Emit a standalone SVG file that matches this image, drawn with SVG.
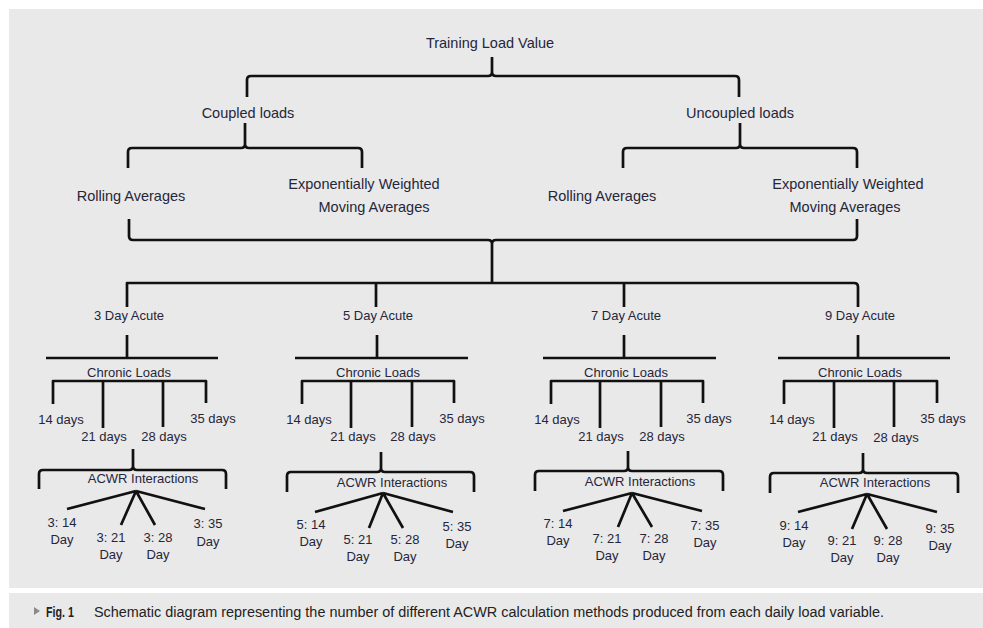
<svg xmlns="http://www.w3.org/2000/svg" width="983" height="628" viewBox="0 0 983 628">
<style>
.ln{fill:none;stroke:#111;stroke-width:2.7;stroke-linejoin:round}
.t{font-family:"Liberation Sans",Arial,sans-serif;font-size:13px;fill:#26263a;text-anchor:middle}
.tl{font-size:14.5px}
.cap{font-family:"Liberation Sans",Arial,sans-serif;font-size:14px;fill:#222}
</style>
<rect x="0" y="0" width="983" height="628" fill="#ffffff"/>
<rect x="9" y="9" width="974" height="579" fill="#e9e9e9"/>
<rect x="9" y="593" width="974" height="35" fill="#e9e9e9"/>

<g id="connectors">
  <path class="ln" d="M247 97 V80 Q247 76 251 76 H488 Q492 76 492 72 V57 M739 97 V80 Q739 76 735 76 H496 Q492 76 492 72"/>
  <path class="ln" d="M128 168 V152 Q128 148 132 148 H241 Q245 148 245 144 V123 M362 168 V152 Q362 148 358 148 H249 Q245 148 245 144"/>
  <path class="ln" d="M623 168 V152 Q623 148 627 148 H736 Q740 148 740 144 V123 M857 168 V152 Q857 148 853 148 H744 Q740 148 740 144"/>
  <path class="ln" d="M129 219 V236 Q129 240 133 240 H488 Q492 240 492 244 V283 M857 219 V236 Q857 240 853 240 H496 Q492 240 492 244"/>
  <path class="ln" d="M127 307 V283 H854 Q858 283 858 287 V307 M376 283 V307 M624 283 V307"/>

  <path class="ln" d="M127 335 V358 M46 358 H218"/>
  <path class="ln" d="M53 404 V381 H206 V403 M103 381 V428 M163 381 V427"/>
  <path class="ln" d="M39 489 V474 Q39 470 43 470 H129 Q133 470 133 466 V449 M226 489 V474 Q226 470 222 470 H137 Q133 470 133 466"/>
  <path class="ln" d="M136 491 L67 509 M136 491 L121 525 M136 491 L155 525 M136 491 L205 509"/>

  <path class="ln" d="M377 335 V358 M295 358 H468"/>
  <path class="ln" d="M302 404 V381 H454 V403 M351 381 V428 M412 381 V427"/>
  <path class="ln" d="M287 492 V476 Q287 472 291 472 H377 Q381 472 381 468 V452 M474 492 V476 Q474 472 470 472 H385 Q381 472 381 468"/>
  <path class="ln" d="M383 493 L315 512 M383 493 L369 528 M383 493 L403 528 M383 493 L453 512"/>

  <path class="ln" d="M624 335 V358 M543 358 H716"/>
  <path class="ln" d="M551 404 V381 H703 V403 M600 381 V428 M661 381 V427"/>
  <path class="ln" d="M535 491 V475 Q535 471 539 471 H624 Q628 471 628 467 V451 M723 491 V475 Q723 471 719 471 H632 Q628 471 628 467"/>
  <path class="ln" d="M632 493 L563 511 M632 493 L618 527 M632 493 L652 527 M632 493 L702 511"/>

  <path class="ln" d="M858 335 V358 M778 358 H950"/>
  <path class="ln" d="M784 404 V381 H937 V403 M834 381 V428 M894 381 V427"/>
  <path class="ln" d="M770 493 V477 Q770 473 774 473 H859 Q863 473 863 469 V453 M958 493 V477 Q958 473 954 473 H867 Q863 473 863 469"/>
  <path class="ln" d="M867 494 L798 512 M867 494 L852 529 M867 494 L887 529 M867 494 L937 512"/>
</g>

<g id="training-load"><text class="t tl" x="490" y="48">Training Load Value</text></g>
<g id="coupled"><text class="t tl" x="248" y="118">Coupled loads</text></g>
<g id="uncoupled"><text class="t tl" x="740" y="118">Uncoupled loads</text></g>
<g id="coupled-rolling"><text class="t tl" x="131" y="201">Rolling Averages</text></g>
<g id="coupled-ewma"><text class="t tl" x="364" y="189">Exponentially Weighted</text><text class="t tl" x="374" y="212">Moving Averages</text></g>
<g id="uncoupled-rolling"><text class="t tl" x="602" y="201">Rolling Averages</text></g>
<g id="uncoupled-ewma"><text class="t tl" x="848" y="189">Exponentially Weighted</text><text class="t tl" x="845" y="212">Moving Averages</text></g>

<g id="col3">
  <g id="acute3"><text class="t" x="129" y="320">3 Day Acute</text></g>
  <g id="chronic3"><text class="t" x="129" y="377">Chronic Loads</text></g>
  <g id="c3-14"><text class="t" x="61" y="424">14 days</text></g>
  <g id="c3-21"><text class="t" x="104" y="441">21 days</text></g>
  <g id="c3-28"><text class="t" x="164" y="441">28 days</text></g>
  <g id="c3-35"><text class="t" x="213" y="423">35 days</text></g>
  <g id="acwr3"><text class="t" x="143" y="483">ACWR Interactions</text></g>
  <g id="r3-14"><text class="t" x="62" y="527">3: 14</text><text class="t" x="62" y="544">Day</text></g>
  <g id="r3-21"><text class="t" x="111" y="542">3: 21</text><text class="t" x="111" y="559">Day</text></g>
  <g id="r3-28"><text class="t" x="158" y="542">3: 28</text><text class="t" x="158" y="559">Day</text></g>
  <g id="r3-35"><text class="t" x="208" y="528">3: 35</text><text class="t" x="208" y="546">Day</text></g>
</g>

<g id="col5">
  <g id="acute5"><text class="t" x="378" y="320">5 Day Acute</text></g>
  <g id="chronic5"><text class="t" x="378" y="377">Chronic Loads</text></g>
  <g id="c5-14"><text class="t" x="309" y="424">14 days</text></g>
  <g id="c5-21"><text class="t" x="353" y="441">21 days</text></g>
  <g id="c5-28"><text class="t" x="413" y="441">28 days</text></g>
  <g id="c5-35"><text class="t" x="462" y="423">35 days</text></g>
  <g id="acwr5"><text class="t" x="392" y="487">ACWR Interactions</text></g>
  <g id="r5-14"><text class="t" x="311" y="529">5: 14</text><text class="t" x="311" y="546">Day</text></g>
  <g id="r5-21"><text class="t" x="358" y="544">5: 21</text><text class="t" x="358" y="561">Day</text></g>
  <g id="r5-28"><text class="t" x="405" y="544">5: 28</text><text class="t" x="405" y="561">Day</text></g>
  <g id="r5-35"><text class="t" x="457" y="531">5: 35</text><text class="t" x="457" y="548">Day</text></g>
</g>

<g id="col7">
  <g id="acute7"><text class="t" x="626" y="320">7 Day Acute</text></g>
  <g id="chronic7"><text class="t" x="626" y="377">Chronic Loads</text></g>
  <g id="c7-14"><text class="t" x="557" y="424">14 days</text></g>
  <g id="c7-21"><text class="t" x="601" y="441">21 days</text></g>
  <g id="c7-28"><text class="t" x="662" y="441">28 days</text></g>
  <g id="c7-35"><text class="t" x="709" y="423">35 days</text></g>
  <g id="acwr7"><text class="t" x="640" y="486">ACWR Interactions</text></g>
  <g id="r7-14"><text class="t" x="558" y="528">7: 14</text><text class="t" x="558" y="545">Day</text></g>
  <g id="r7-21"><text class="t" x="607" y="543">7: 21</text><text class="t" x="607" y="560">Day</text></g>
  <g id="r7-28"><text class="t" x="654" y="543">7: 28</text><text class="t" x="654" y="560">Day</text></g>
  <g id="r7-35"><text class="t" x="705" y="530">7: 35</text><text class="t" x="705" y="547">Day</text></g>
</g>

<g id="col9">
  <g id="acute9"><text class="t" x="860" y="320">9 Day Acute</text></g>
  <g id="chronic9"><text class="t" x="860" y="377">Chronic Loads</text></g>
  <g id="c9-14"><text class="t" x="792" y="424">14 days</text></g>
  <g id="c9-21"><text class="t" x="835" y="441">21 days</text></g>
  <g id="c9-28"><text class="t" x="896" y="442">28 days</text></g>
  <g id="c9-35"><text class="t" x="943" y="423">35 days</text></g>
  <g id="acwr9"><text class="t" x="875" y="487">ACWR Interactions</text></g>
  <g id="r9-14"><text class="t" x="794" y="530">9: 14</text><text class="t" x="794" y="547">Day</text></g>
  <g id="r9-21"><text class="t" x="842" y="545">9: 21</text><text class="t" x="842" y="562">Day</text></g>
  <g id="r9-28"><text class="t" x="888" y="545">9: 28</text><text class="t" x="888" y="562">Day</text></g>
  <g id="r9-35"><text class="t" x="940" y="533">9: 35</text><text class="t" x="940" y="550">Day</text></g>
</g>

<g id="caption">
  <polygon points="34,607 40,611 34,615" fill="#8a8a8a"/>
  <text class="cap" x="46" y="617" font-weight="bold" textLength="28" lengthAdjust="spacingAndGlyphs">Fig. 1</text>
  <text class="cap" x="94" y="617" textLength="790" lengthAdjust="spacingAndGlyphs">Schematic diagram representing the number of different ACWR calculation methods produced from each daily load variable.</text>
</g>
</svg>
